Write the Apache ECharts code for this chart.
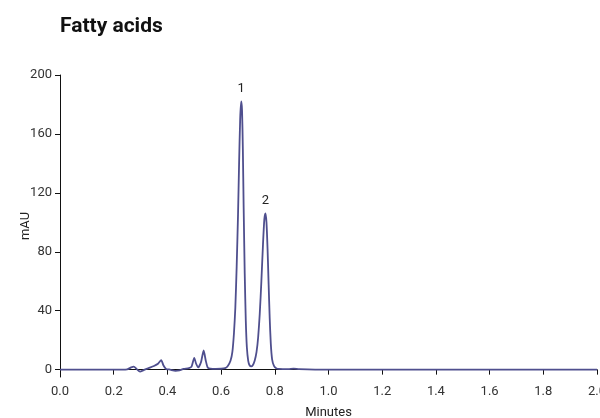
<!DOCTYPE html>
<html>
<head>
<meta charset="utf-8">
<script src="https://cdn.jsdelivr.net/npm/echarts@6/dist/echarts.min.js"></script>
<style>html,body{margin:0;padding:0;background:#fff;}#c{width:600px;height:418px;}</style>
</head>
<body>
<div id="c"></div>
<script>
var xTicks = [0, 0.2, 0.4, 0.6, 0.8, 1.0, 1.2, 1.4, 1.6, 1.8, 2.0];
var yTicks = [0, 40, 80, 120, 160, 200];
var minutes = [0, 0.1, 0.2, 0.25, 0.265, 0.275, 0.285, 0.298, 0.31, 0.33, 0.35, 0.365, 0.377, 0.385, 0.395, 0.41, 0.43, 0.445, 0.46, 0.48, 0.49, 0.5, 0.507, 0.515, 0.525, 0.535, 0.543, 0.55, 0.56, 0.58, 0.6, 0.615, 0.625, 0.635, 0.642, 0.648, 0.653, 0.658, 0.663, 0.667, 0.671, 0.675, 0.678, 0.681, 0.684, 0.688, 0.692, 0.696, 0.701, 0.706, 0.712, 0.718, 0.725, 0.732, 0.738, 0.744, 0.75, 0.756, 0.761, 0.765, 0.769, 0.773, 0.777, 0.781, 0.785, 0.79, 0.797, 0.805, 0.815, 0.85, 0.87, 0.89, 0.95, 1.2, 2.0];
var mAU = [0, 0, 0, 0.2, 1.5, 2, 0.5, -1.3, -0.5, 1, 2.5, 4, 6.5, 3, 0.5, 0, -0.8, -0.5, 0.5, 1, 2, 8, 4, 1.5, 5, 13, 6, 1.5, 0.7, 0.5, 0.6, 1, 2.5, 6, 12, 25, 42, 70, 105, 140, 170, 182, 176, 150, 110, 65, 33, 15, 6, 3, 2.2, 3, 6, 12, 22, 38, 60, 85, 102, 106, 100, 82, 58, 35, 18, 7, 2.5, 1, 0.5, 0.3, 0.7, 0.3, 0, 0, 0];
var peakLabels = ['1', '2'];
var peakX = [0.675, 0.765];
var peakY = [182, 106];

var FONT = "Roboto, 'Liberation Sans', sans-serif";
var chart = echarts.init(document.getElementById('c'));
var lineData = minutes.map(function (m, i) { return [m, mAU[i]]; });
var mp = peakLabels.map(function (t, i) {
  return { coord: [peakX[i], peakY[i]], value: t };
});
chart.setOption({
  animation: false,
  title: {
    text: 'Fatty acids', left: 55, top: 11,
    textStyle: { fontFamily: FONT, fontSize: 21, fontWeight: 'bold', color: '#111' }
  },
  grid: { left: 60, right: 3, top: 75, bottom: 41, outerBoundsMode: 'none', containLabel: false },
  xAxis: {
    type: 'value', min: 0, max: 2, interval: 0.2,
    name: 'Minutes', nameLocation: 'middle', nameGap: 29, nameMoveOverlap: false,
    nameTextStyle: { fontFamily: FONT, fontSize: 13, color: '#222' },
    axisLine: { lineStyle: { color: '#111', width: 1 } },
    axisTick: { length: 5, lineStyle: { color: '#111' } },
    axisLabel: { fontFamily: FONT, fontSize: 13, color: '#333', margin: 8,
      formatter: function (v) { return v.toFixed(1); } },
    splitLine: { show: false }
  },
  yAxis: {
    type: 'value', min: -5, max: 200,
    name: 'mAU', nameLocation: 'middle', nameGap: 28, nameMoveOverlap: false,
    nameTextStyle: { fontFamily: FONT, fontSize: 13, color: '#222' },
    axisLine: { show: true, lineStyle: { color: '#111', width: 1 } },
    axisTick: { show: true, length: 5, lineStyle: { color: '#111' }, customValues: yTicks },
    axisLabel: { fontFamily: FONT, fontSize: 13, color: '#333', margin: 8, customValues: yTicks },
    splitLine: { show: false }
  },
  series: [{
    type: 'line', data: lineData, showSymbol: false, smooth: 0.2,
    lineStyle: { color: '#4f4f8e', width: 1.8 },
    markPoint: {
      symbol: 'circle', symbolSize: 0,
      label: { show: true, position: 'top', distance: 6, formatter: function (p) { return p.value; },
        fontFamily: FONT, fontSize: 13, color: '#222' },
      data: mp
    }
  }]
});
</script>
</body>
</html>
